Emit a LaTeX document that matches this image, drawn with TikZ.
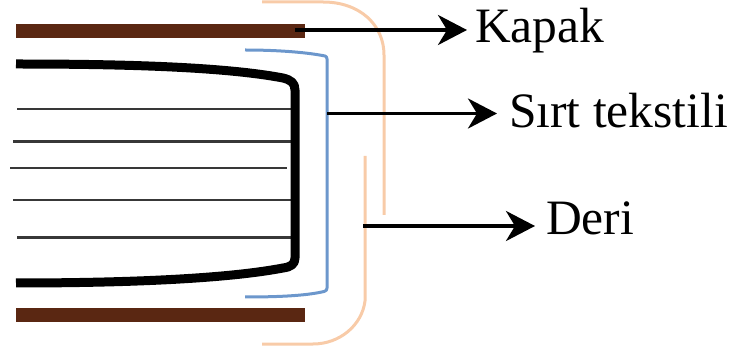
\documentclass[tikz,border=0pt]{standalone}
\usepackage{fontspec}
\setmainfont{Liberation Serif}
\usetikzlibrary{arrows.meta}
\definecolor{coverbrown}{HTML}{5A2712}
\definecolor{spineblue}{HTML}{6C97CC}
\definecolor{leatherorange}{HTML}{F8CBA8}
\tikzset{
  coverbar/.style={fill=coverbrown,draw=none},
  pagesheet/.style={draw=black!78,line width=2.5pt},
  bookblock/.style={draw=black,line width=9pt,line join=round},
  spinecloth/.style={draw=spineblue,line width=3pt,line join=round},
  leather/.style={draw=leatherorange,line width=3pt},
  callout/.style={draw=black,line width=3.6pt,-{Stealth[length=29pt,width=30pt,inset=9pt]}},
  calloutlabel/.style={anchor=west,inner ysep=0pt,font=\fontsize{49.5pt}{51pt}\selectfont,text depth=0pt}
}
\begin{document}
\begin{tikzpicture}[x=1pt,y=-1pt]
\useasboundingbox (0,0) rectangle (733,352);
% covers
\fill[coverbar] (16,24) rectangle (305,38.5);
\fill[coverbar] (16,308) rectangle (305,322.5);
% leather
\draw[leather] (262,2) -- (323,2) .. controls (360,2) and (384,25) .. (384,55) -- (384,215);
\draw[leather] (365,156) -- (365,301) .. controls (362,325) and (340,344) .. (313,344) -- (262,344);
% spine cloth
\draw[spinecloth] (245,50) .. controls (275,50) and (305,52) .. (325,56) .. controls (326,56.5) and (327,57) .. (327,59) -- (327,288) .. controls (327,290) and (326,291) .. (324,291.5) .. controls (305,296) and (275,297) .. (245,297);
% pages
\draw[pagesheet] (17,109) -- (295,109);
\draw[pagesheet] (13,141.5) -- (295,141.5);
\draw[pagesheet] (10,168) -- (287,168);
\draw[pagesheet] (13,200) -- (295,200);
\draw[pagesheet] (17,237.5) -- (295,237.5);
% text block
\draw[bookblock] (16,64) .. controls (110,64) and (220,66) .. (283,78) .. controls (291,80) and (295,83) .. (295,90) -- (295,258) .. controls (295,264) and (291,267) .. (283,268) .. controls (220,280) and (110,283) .. (16,283);
% labels
\node[calloutlabel,inner xsep=8pt,text height=26pt] (kapak) at (467,30) {Kapak};
\node[calloutlabel,inner xsep=12pt,text height=28pt] (sirt) at (497,113.5) {Sırt tekstili};
\node[calloutlabel,inner xsep=11pt,text height=18pt] (deri) at (535,226) {Deri};
\coordinate (kapakfrom) at (295,30);
\coordinate (sirtfrom) at (327,113.5);
\coordinate (derifrom) at (363,226);
\draw[callout] (kapakfrom) -- (kapak.west);
\draw[callout] (sirtfrom) -- (sirt.west);
\draw[callout] (derifrom) -- (deri.west);
\end{tikzpicture}
\end{document}
